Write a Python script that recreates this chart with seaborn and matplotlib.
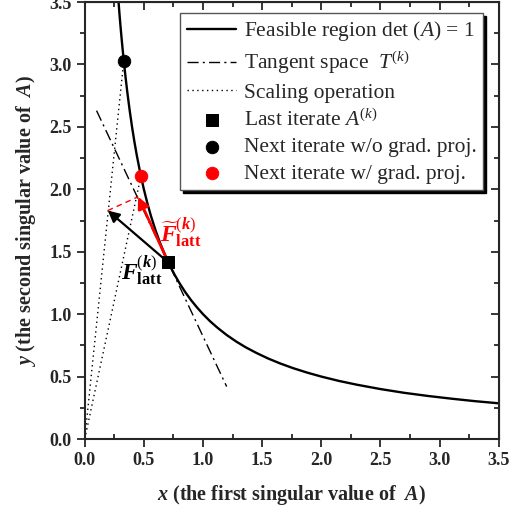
import numpy as np
import matplotlib
matplotlib.use("Agg")
import matplotlib.pyplot as plt
import seaborn as sns

# feasible region det(A) = 1
curve_x = [0.286, 0.295, 0.305, 0.315, 0.33, 0.345, 0.36, 0.38, 0.40, 0.42, 0.44,
           0.47, 0.50, 0.53, 0.56, 0.60, 0.64, 0.68, 0.72, 0.76, 0.80, 0.85,
           0.90, 0.95, 1.00, 1.06, 1.12, 1.20, 1.28, 1.36, 1.45, 1.55, 1.65,
           1.76, 1.88, 2.00, 2.15, 2.30, 2.50, 2.70, 2.90, 3.10, 3.30, 3.50]
curve_y = [3.50, 3.390, 3.279, 3.175, 3.030, 2.899, 2.778, 2.632, 2.500, 2.381, 2.273,
           2.128, 2.000, 1.887, 1.786, 1.667, 1.563, 1.471, 1.389, 1.316, 1.250, 1.176,
           1.111, 1.053, 1.000, 0.943, 0.893, 0.833, 0.781, 0.735, 0.690, 0.645, 0.606,
           0.568, 0.532, 0.500, 0.465, 0.435, 0.400, 0.370, 0.345, 0.323, 0.303, 0.286]

# tangent space at the last iterate
tangent_x = [0.10, 1.20]
tangent_y = [2.63, 0.42]

# iterates and gradient tips
last_x, last_y = [0.707], [1.414]
next_wo_x, next_wo_y = [0.33], [3.03]
next_w_x, next_w_y = [0.475], [2.105]
grad_tip = (0.195, 1.83)
proj_tip = (0.452, 1.94)

# scaling rays from origin
scale1_x, scale1_y = [0.0, 0.33], [0.0, 3.03]
scale2_x, scale2_y = [0.0, 0.475], [0.0, 2.105]
proj_x, proj_y = [0.195, 0.452], [1.83, 1.94]

sns.set_style("ticks")
plt.rcParams["font.family"] = ["Liberation Serif", "DejaVu Serif"]
plt.rcParams["mathtext.fontset"] = "custom"
plt.rcParams["mathtext.rm"] = "Liberation Serif"
plt.rcParams["mathtext.it"] = "Liberation Serif:italic"
plt.rcParams["mathtext.bf"] = "Liberation Serif:bold"
plt.rcParams["mathtext.bfit"] = "Liberation Serif:bold:italic"

fig = plt.figure(figsize=(5.11, 5.18), dpi=100)
ax = fig.add_axes([0.1658, 0.1525, 0.8102, 0.8436])

sns.lineplot(x=curve_x, y=curve_y, color="black", lw=1.7, sort=False, ax=ax,
             label=r"Feasible region det $(A)$ = 1")
sns.lineplot(x=tangent_x, y=tangent_y, color="black", lw=1.0, sort=False, ax=ax,
             linestyle=(0, (8, 3, 1.5, 3)), label=r"Tangent space  $T^{(k)}$")
sns.lineplot(x=scale1_x, y=scale1_y, color="black", lw=1.0, sort=False, ax=ax,
             linestyle=(0, (1, 2.5)), label="Scaling operation")
sns.lineplot(x=scale2_x, y=scale2_y, color="black", lw=1.0, sort=False, ax=ax,
             linestyle=(0, (1, 2.5)))
sns.lineplot(x=proj_x, y=proj_y, color="red", lw=1.0, sort=False, ax=ax,
             linestyle=(0, (4, 3)))

ax.annotate("", xy=grad_tip, xytext=(last_x[0], last_y[0]),
            arrowprops=dict(arrowstyle="-|>", color="black", lw=1.6,
                            mutation_scale=17, shrinkA=0, shrinkB=0), zorder=4)
ax.annotate("", xy=proj_tip, xytext=(last_x[0], last_y[0]),
            arrowprops=dict(arrowstyle="-|>", color="red", lw=2.0,
                            mutation_scale=17, shrinkA=0, shrinkB=0), zorder=4)

sns.scatterplot(x=last_x, y=last_y, marker="s", s=80, color="black",
                edgecolor="black", ax=ax, zorder=5, label=r"Last iterate $A^{(k)}$")
sns.scatterplot(x=next_wo_x, y=next_wo_y, marker="o", s=80, color="black",
                edgecolor="black", ax=ax, zorder=5, label="Next iterate w/o grad. proj.")
sns.scatterplot(x=next_w_x, y=next_w_y, marker="o", s=80, color="red",
                edgecolor="red", ax=ax, zorder=5, label="Next iterate w/ grad. proj.")

ax.text(0.48, 1.35, r"$\mathbfit{F}^{(\mathbfit{k})}_{\mathbf{latt}}$", fontsize=17,
        color="black", ha="center", va="center")
ax.text(0.81, 1.66, r"$\widetilde{\mathbfit{F}}^{(\mathbfit{k})}_{\mathbf{latt}}$", fontsize=17,
        color="red", ha="center", va="center")

ax.set_xlim(0, 3.5)
ax.set_ylim(0, 3.5)
ticks = np.arange(0, 3.51, 0.5)
ax.set_xticks(ticks)
ax.set_yticks(ticks)
ax.set_xticks(np.arange(0.25, 3.5, 0.5), minor=True)
ax.set_yticks(np.arange(0.25, 3.5, 0.5), minor=True)
ax.set_xticklabels([f"{t:.1f}" for t in ticks], fontsize=13, fontweight="bold")
ax.set_yticklabels([f"{t:.1f}" for t in ticks], fontsize=13, fontweight="bold")
ax.tick_params(axis="x", which="major", direction="out", length=6, width=1.3)
ax.tick_params(axis="x", which="minor", direction="in", length=3.5, width=1.3)
ax.tick_params(axis="y", which="major", direction="out", length=6, width=1.3)
ax.tick_params(axis="y", which="minor", direction="out", length=3.5, width=1.3)
for s in ax.spines.values():
    s.set_linewidth(1.5)
    s.set_visible(True)

top = ax.secondary_xaxis("top")
top.set_xticks(ticks)
top.set_xticks(np.arange(0.25, 3.5, 0.5), minor=True)
top.tick_params(which="both", direction="in", labeltop=False, width=1.3)
top.tick_params(which="major", length=6)
top.tick_params(which="minor", length=3.5)
right = ax.secondary_yaxis("right")
right.set_yticks(ticks)
right.set_yticks(np.arange(0.25, 3.5, 0.5), minor=True)
right.tick_params(which="both", direction="in", labelright=False, width=1.3)
right.tick_params(which="major", length=6)
right.tick_params(which="minor", length=3.5)

ax.set_xlabel(r"$\mathbfit{x}$ (the first singular value of  $\mathbfit{A}$)",
              fontsize=14.5, fontweight="bold", labelpad=10)
ax.set_ylabel(r"$\mathbfit{y}$ (the second singular value of  $\mathbfit{A}$)",
              fontsize=14.5, fontweight="bold", labelpad=8)

handles, labels = ax.get_legend_handles_labels()
leg = ax.legend(handles, labels, loc="upper right", bbox_to_anchor=(0.962, 0.975),
                borderaxespad=0, fontsize=15.5, frameon=True, fancybox=False,
                shadow={"color": "black", "alpha": 1.0}, edgecolor="#555555",
                framealpha=1, handlelength=2.3, handletextpad=0.35,
                labelspacing=0.3, borderpad=0.3)
leg.get_frame().set_linewidth(1.0)

fig.savefig("out.png", dpi=100)
